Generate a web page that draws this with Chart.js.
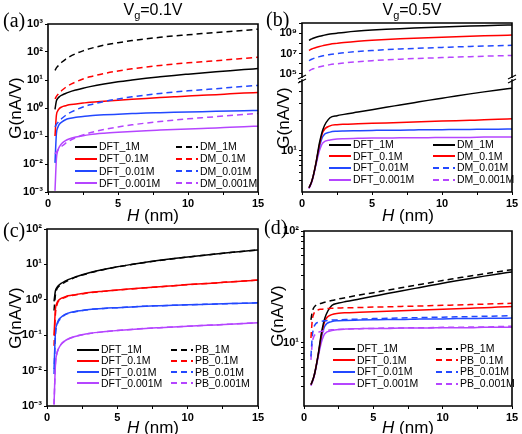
<!DOCTYPE html>
<html>
<head>
<meta charset="utf-8">
<script src="https://cdn.jsdelivr.net/npm/chart.js@4.4.1/dist/chart.umd.min.js"></script>
<style>
  body { margin: 0; background: #fff; }
  #wrap { position: relative; width: 522px; height: 434px; overflow: hidden; font-family: 'Liberation Sans', Arial, sans-serif; color: #000; }
  canvas { position: absolute; }
  .lbl { position: absolute; font-family: 'Liberation Serif', 'Times New Roman', serif; font-size: 20px; line-height: 20px; }
  .title { position: absolute; font-size: 16px; line-height: 16px; white-space: nowrap; transform: translateX(-50%); }
  .title sub { font-size: 11px; vertical-align: -4px; }
  .ytitle { position: absolute; font-size: 17px; line-height: 17px; white-space: nowrap; transform: translate(-50%, -50%) rotate(-90deg); }
  .xtitle { position: absolute; font-size: 17px; line-height: 17px; white-space: nowrap; transform: translate(-50%, -50%); }
  .leg { position: absolute; display: flex; align-items: center; font-size: 10.5px; line-height: 11px; white-space: nowrap; }
  .leg svg { margin-right: 2px; }
</style>
</head>
<body>
<div id="wrap">
  <canvas id="ca" width="272" height="212" style="left:0;top:0"></canvas>
  <canvas id="cbU" width="261" height="78" style="left:261px;top:0"></canvas>
  <canvas id="cbL" width="261" height="142" style="left:261px;top:70px"></canvas>
  <canvas id="cc" width="272" height="217" style="left:0;top:217px"></canvas>
  <canvas id="cd" width="261" height="217" style="left:261px;top:217px"></canvas>

  <div class="title" style="left:153px;top:2px">V<sub>g</sub>=0.1V</div>
  <div class="title" style="left:412px;top:2px">V<sub>g</sub>=0.5V</div>

  <div class="lbl" style="left:3px;top:10px">(a)</div>
  <div class="lbl" style="left:266px;top:9px">(b)</div>
  <div class="lbl" style="left:3px;top:220px">(c)</div>
  <div class="lbl" style="left:264px;top:217px">(d)</div>

  <div class="ytitle" style="left:15px;top:108px">G(nA/V)</div>
  <div class="ytitle" style="left:283px;top:118px">G(nA/V)</div>
  <div class="ytitle" style="left:15px;top:318px">G(nA/V)</div>
  <div class="ytitle" style="left:277px;top:316px">G(nA/V)</div>

  <div class="xtitle" style="left:153px;top:215px"><i>H</i> (nm)</div>
  <div class="xtitle" style="left:408px;top:215px"><i>H</i> (nm)</div>
  <div class="xtitle" style="left:153px;top:427px"><i>H</i> (nm)</div>
  <div class="xtitle" style="left:408px;top:427px"><i>H</i> (nm)</div>
</div>

<script>
// Slit width H (nm), shared by every curve
const H = [0.5, 0.6, 0.7, 0.8, 1, 1.25, 1.5, 2, 2.5, 3, 4, 5, 6, 7, 8, 9, 10, 11, 12, 13, 14, 15];
const xMajorTicks = [0, 5, 10, 15];
const concLabels = ['1M', '0.1M', '0.01M', '0.001M'];

// Vg = 0.1V : DFT
const dftLow1M    = [0.9, 1.8, 2.2, 2.5, 2.9, 3.3, 3.7, 4.4, 5.1, 5.8, 7.2, 8.6, 10, 11.5, 13, 14.6, 16.2, 17.9, 19.7, 21.6, 23.6, 25.6];
const dftLow01M   = [0.1, 0.55, 0.8, 0.95, 1.1, 1.2, 1.3, 1.4, 1.5, 1.6, 1.75, 1.9, 2.05, 2.2, 2.35, 2.5, 2.7, 2.85, 3.0, 3.2, 3.4, 3.6];
const dftLow001M  = [0.011, 0.12, 0.2, 0.26, 0.32, 0.38, 0.42, 0.47, 0.5, 0.53, 0.57, 0.6, 0.63, 0.66, 0.68, 0.7, 0.72, 0.74, 0.76, 0.78, 0.8, 0.82];
const dftLow0001M = [0.0011, 0.015, 0.03, 0.04, 0.055, 0.068, 0.078, 0.092, 0.103, 0.112, 0.125, 0.136, 0.146, 0.155, 0.163, 0.171, 0.179, 0.187, 0.195, 0.205, 0.215, 0.225];

// Vg = 0.1V : DM
const dmLow1M    = [22, 27, 31, 36, 44, 55, 66, 88, 110, 132, 175, 215, 255, 295, 335, 375, 410, 455, 500, 545, 595, 650];
const dmLow01M   = [2.1, 2.6, 3.0, 3.5, 4.3, 5.4, 6.5, 8.6, 10.8, 13, 17, 21, 25, 29, 33, 37, 41, 45, 49, 54, 59, 65];
const dmLow001M  = [0.21, 0.26, 0.3, 0.35, 0.43, 0.54, 0.65, 0.86, 1.08, 1.3, 1.7, 2.1, 2.5, 2.9, 3.3, 3.7, 4.1, 4.5, 4.9, 5.4, 5.9, 6.4];
const dmLow0001M = [0.023, 0.027, 0.031, 0.036, 0.044, 0.055, 0.066, 0.087, 0.108, 0.13, 0.17, 0.21, 0.25, 0.29, 0.33, 0.37, 0.41, 0.45, 0.49, 0.54, 0.59, 0.64];

// Vg = 0.1V : PB
const pbLow1M    = [0.5, 1.4, 2.0, 2.3, 2.7, 3.1, 3.5, 4.3, 5.0, 5.7, 7.1, 8.5, 9.9, 11.4, 12.9, 14.5, 16.1, 17.8, 19.6, 21.5, 23.5, 25.5];
const pbLow01M   = [0.05, 0.4, 0.7, 0.9, 1.05, 1.15, 1.25, 1.37, 1.47, 1.57, 1.73, 1.88, 2.03, 2.18, 2.33, 2.5, 2.68, 2.84, 3.0, 3.2, 3.4, 3.6];
const pbLow001M  = [0.008, 0.1, 0.18, 0.24, 0.3, 0.37, 0.41, 0.46, 0.5, 0.53, 0.57, 0.6, 0.63, 0.66, 0.68, 0.7, 0.72, 0.74, 0.76, 0.78, 0.8, 0.82];
const pbLow0001M = [0.0011, 0.015, 0.03, 0.04, 0.055, 0.068, 0.078, 0.092, 0.103, 0.112, 0.125, 0.136, 0.146, 0.155, 0.163, 0.171, 0.179, 0.187, 0.195, 0.205, 0.215, 0.225];

// Vg = 0.5V : DFT
const dftHigh1M    = [4.2, 4.5, 4.9, 5.5, 7.5, 12, 16.5, 21.5, 22.6, 23.3, 24.6, 26, 27.5, 29, 30.6, 32.3, 34, 35.8, 37.6, 39.4, 41.2, 43];
const dftHigh01M   = [4.2, 4.5, 4.9, 5.5, 7.5, 11.5, 15.5, 17.8, 18.3, 18.5, 18.7, 18.9, 19.1, 19.3, 19.5, 19.7, 19.9, 20.1, 20.3, 20.5, 20.8, 21];
const dftHigh001M  = [4.2, 4.5, 4.9, 5.5, 7.4, 11, 14, 15.4, 15.7, 15.8, 15.9, 16, 16.1, 16.1, 16.2, 16.3, 16.3, 16.4, 16.4, 16.5, 16.5, 16.6];
const dftHigh0001M = [4.1, 4.4, 4.8, 5.4, 7.2, 10, 12, 12.8, 13.1, 13.2, 13.3, 13.4, 13.4, 13.5, 13.5, 13.5, 13.6, 13.6, 13.6, 13.7, 13.7, 13.7];

// Vg = 0.5V : DM (upper part of the broken axis)
const dmHigh1M    = [2e8, 2.4e8, 2.8e8, 3.2e8, 4e8, 5e8, 6e8, 8.2e8, 1.0e9, 1.2e9, 1.6e9, 2.0e9, 2.4e9, 2.8e9, 3.2e9, 3.6e9, 4.0e9, 4.5e9, 5.0e9, 5.5e9, 6.0e9, 6.5e9];
const dmHigh01M   = [2e7, 2.4e7, 2.8e7, 3.2e7, 4e7, 5e7, 6e7, 8.2e7, 1.0e8, 1.2e8, 1.6e8, 2.0e8, 2.4e8, 2.8e8, 3.2e8, 3.6e8, 4.0e8, 4.5e8, 5.0e8, 5.5e8, 6.0e8, 6.5e8];
const dmHigh001M  = [2e6, 2.4e6, 2.8e6, 3.2e6, 4e6, 5e6, 6e6, 8.2e6, 1.0e7, 1.2e7, 1.6e7, 2.0e7, 2.4e7, 2.8e7, 3.2e7, 3.6e7, 4.0e7, 4.5e7, 5.0e7, 5.5e7, 6.0e7, 6.5e7];
const dmHigh0001M = [2e5, 2.4e5, 2.8e5, 3.2e5, 4e5, 5e5, 6e5, 8.2e5, 1.0e6, 1.2e6, 1.6e6, 2.0e6, 2.4e6, 2.8e6, 3.2e6, 3.6e6, 4.0e6, 4.5e6, 5.0e6, 5.5e6, 6.0e6, 6.5e6];

// Vg = 0.5V : PB
const pbHigh1M    = [16, 19, 20.5, 21.3, 22, 22.5, 23, 23.8, 24.6, 25.3, 26.7, 28, 29.5, 31, 32.6, 34.2, 36, 37.7, 39.5, 41.3, 43.2, 45];
const pbHigh01M   = [11, 16, 18, 19, 19.6, 19.9, 20.1, 20.3, 20.4, 20.5, 20.6, 20.8, 20.9, 21.1, 21.2, 21.4, 21.6, 21.7, 21.9, 22.1, 22.3, 22.5];
const pbHigh001M  = [7.5, 11.5, 13.5, 14.5, 15.2, 15.5, 15.7, 15.9, 16, 16.1, 16.2, 16.4, 16.5, 16.6, 16.7, 16.8, 16.9, 17, 17.1, 17.2, 17.3, 17.4];
const pbHigh0001M = [7, 10, 11.2, 11.8, 12.3, 12.6, 12.8, 13, 13.1, 13.2, 13.3, 13.4, 13.5, 13.5, 13.6, 13.6, 13.7, 13.7, 13.8, 13.8, 13.9, 14];

const colors = ['#000000', '#ff0000', '#2348ff', '#b545ff'];
const DASH = [6, 4];
const tickFont = { family: "'Liberation Sans', Arial, sans-serif", size: 11, weight: 'bold' };

const SUP = { '-': '\u207B', '0': '\u2070', '1': '\u00B9', '2': '\u00B2', '3': '\u00B3', '4': '\u2074', '5': '\u2075', '6': '\u2076', '7': '\u2077', '8': '\u2078', '9': '\u2079' };
function sup(n) { return String(n).split('').map(c => SUP[c]).join(''); }
function isPow10(v) { const e = Math.log10(v); return Math.abs(e - Math.round(e)) < 1e-6; }
function isNice(v) {
  const e = Math.floor(Math.log10(v) + 1e-9);
  const m = v / Math.pow(10, e);
  return Math.abs(m - Math.round(m)) < 1e-6;
}

// Build line datasets for one method (DFT / DM / PB)
function series(prefix, arrays, dashed) {
  return arrays.map((arr, i) => ({
    label: prefix + '_' + concLabels[i],
    data: H.map((h, j) => ({ x: h, y: arr[j] })),
    borderColor: colors[i],
    borderWidth: 1.5,
    borderDash: dashed[i] ? DASH : [],
    pointRadius: 0,
    cubicInterpolationMode: 'monotone',
    fill: false
  }));
}

function yLog(min, max, width, labelled, minor) {
  return {
    type: 'logarithmic',
    min: min,
    max: max,
    afterBuildTicks: s => { s.ticks = s.ticks.filter(t => isPow10(t.value) || (minor && isNice(t.value))); },
    afterFit: s => { s.width = width; s.paddingTop = 0; s.paddingBottom = 0; },
    grid: { drawOnChartArea: false, tickLength: 3, color: '#000' },
    border: { display: false },
    ticks: {
      autoSkip: false, font: tickFont, color: '#000', padding: 2,
      callback: v => {
        if (!isPow10(v)) return '';
        const e = Math.round(Math.log10(v));
        return labelled(e) ? '10' + sup(e) : '';
      }
    }
  };
}

function xAxis(height, show) {
  return {
    type: 'linear',
    min: 0,
    max: 15,
    display: show,
    afterFit: s => { s.height = height; s.paddingLeft = 0; s.paddingRight = 0; },
    grid: { drawOnChartArea: false, tickLength: 3, color: '#000' },
    border: { display: false },
    ticks: {
      stepSize: 2.5, autoSkip: false, maxRotation: 0, font: tickFont, color: '#000', padding: 2,
      callback: v => xMajorTicks.includes(v) ? String(v) : ''
    }
  };
}

// Draws the Origin-style box and the axis break marks
const framePlugin = {
  id: 'frame',
  afterDraw(chart, args, opts) {
    const { left, right, top, bottom } = chart.chartArea;
    const ctx = chart.ctx;
    const sides = opts.sides || 'tlrb';
    ctx.save();
    ctx.strokeStyle = '#000';
    ctx.lineWidth = 1.6;
    ctx.lineCap = 'square';
    ctx.beginPath();
    if (sides.includes('t')) { ctx.moveTo(left, top); ctx.lineTo(right, top); }
    if (sides.includes('b')) { ctx.moveTo(left, bottom); ctx.lineTo(right, bottom); }
    if (sides.includes('l')) { ctx.moveTo(left, top); ctx.lineTo(left, bottom); }
    if (sides.includes('r')) { ctx.moveTo(right, top); ctx.lineTo(right, bottom); }
    ctx.stroke();
    if (opts.breaks) {
      ctx.lineWidth = 1.2;
      ctx.lineCap = 'butt';
      [left, right].forEach(x => {
        [top - 3, top + 1].forEach(y => {
          ctx.beginPath();
          ctx.moveTo(x - 4, y + 2);
          ctx.lineTo(x + 4, y - 2);
          ctx.stroke();
        });
      });
    }
    ctx.restore();
  }
};

function makeChart(id, datasets, scales, padding, frame) {
  return new Chart(document.getElementById(id), {
    type: 'line',
    data: { datasets: datasets },
    options: {
      responsive: false,
      animation: false,
      events: [],
      layout: { padding: padding },
      plugins: { legend: { display: false }, tooltip: { enabled: false }, frame: frame },
      scales: scales
    },
    plugins: [framePlugin]
  });
}

// Legend drawn as HTML on top of the canvases, two columns of four rows
function legend(leftCol, rightCol, x0, y0, colW, rowH) {
  const wrap = document.getElementById('wrap');
  [leftCol, rightCol].forEach((col, c) => {
    col.forEach((ds, r) => {
      const el = document.createElement('div');
      el.className = 'leg';
      el.style.left = (x0 + c * colW) + 'px';
      el.style.top = (y0 + r * rowH) + 'px';
      const dash = ds.borderDash.length ? ' stroke-dasharray="' + ds.borderDash.join(',') + '"' : '';
      el.innerHTML = '<svg width="22" height="6"><line x1="0" y1="3" x2="22" y2="3" stroke="' + ds.borderColor +
        '" stroke-width="2"' + dash + '/></svg><span>' + ds.label + '</span>';
      wrap.appendChild(el);
    });
  });
}

const solid = [false, false, false, false];
const dashed = [true, true, true, true];

// (a) Vg=0.1V, DFT vs DM
const dftA = series('DFT', [dftLow1M, dftLow01M, dftLow001M, dftLow0001M], solid);
const dmA = series('DM', [dmLow1M, dmLow01M, dmLow001M, dmLow0001M], dashed);
makeChart('ca', [...dmA, ...dftA],
  { x: xAxis(20, true), y: yLog(1e-3, 1e3, 48, () => true, false) },
  { left: 0, top: 24, right: 14, bottom: 0 }, { sides: 'tlrb' });
legend(dftA, dmA, 75, 141, 101, 12.3);

// (b) Vg=0.5V, DFT vs DM on a broken axis
const dftB = series('DFT', [dftHigh1M, dftHigh01M, dftHigh001M, dftHigh0001M], solid);
const dmB = series('DM', [dmHigh1M, dmHigh01M, dmHigh001M, dmHigh0001M], [false, false, true, true]);
makeChart('cbU', dmB,
  { x: xAxis(0, false), y: yLog(4e4, 1e10, 41, e => e % 2 === 1, false) },
  { left: 0, top: 23, right: 10, bottom: 0 }, { sides: 'tlr' });
makeChart('cbL', dftB,
  { x: xAxis(20, true), y: yLog(3.8, 52, 41, () => true, true) },
  { left: 0, top: 10, right: 10, bottom: 0 }, { sides: 'lrb', breaks: true });
legend(dftB, dmB, 329, 139, 104, 11.7);

// (c) Vg=0.1V, DFT vs PB
const dftC = series('DFT', [dftLow1M, dftLow01M, dftLow001M, dftLow0001M], solid);
const pbC = series('PB', [pbLow1M, pbLow01M, pbLow001M, pbLow0001M], dashed);
makeChart('cc', [...dftC, ...pbC],
  { x: xAxis(28, true), y: yLog(1e-3, 1e2, 47, () => true, false) },
  { left: 0, top: 12, right: 14, bottom: 0 }, { sides: 'tlrb' });
legend(dftC, pbC, 77, 344, 94, 11.3);

// (d) Vg=0.5V, DFT vs PB
const dftD = series('DFT', [dftHigh1M, dftHigh01M, dftHigh001M, dftHigh0001M], solid);
const pbD = series('PB', [pbHigh1M, pbHigh01M, pbHigh001M, pbHigh0001M], dashed);
makeChart('cd', [...pbD, ...dftD],
  { x: xAxis(28, true), y: yLog(2.7, 100, 43, () => true, true) },
  { left: 0, top: 14, right: 10, bottom: 0 }, { sides: 'tlrb' });
legend(dftD, pbD, 333, 343, 103, 11.7);
</script>
</body>
</html>
